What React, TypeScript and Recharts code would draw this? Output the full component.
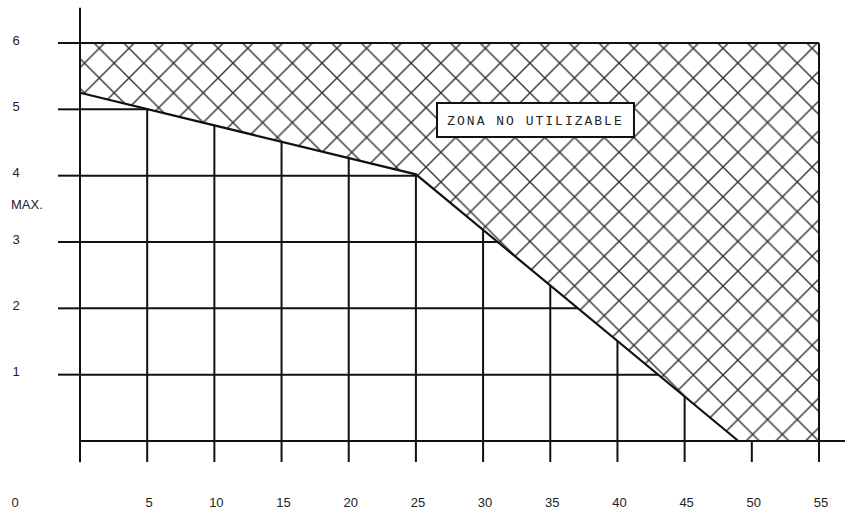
import React from "react"
import {
  ComposedChart,
  Area,
  XAxis,
  YAxis,
  CartesianGrid,
  ReferenceLine,
  ReferenceArea,
} from "recharts"

// axis ticks
const xTicks = [0, 5, 10, 15, 20, 25, 30, 35, 40, 45, 50, 55]
const yTicks = [1, 2, 3, 4, 5, 6]

// boundary of the unusable zone (lower edge), upper edge is the top of the chart
const boundaryX = [0, 25, 49, 55]
const boundaryY = [5.25, 4.02, 0, 0]
const zoneTop = 6

const zoneLabel = "ZONA NO UTILIZABLE"
const maxLabel = "MAX."

const zoneData = boundaryX.map((x, i) => ({ x, zone: [boundaryY[i], zoneTop] }))

const INK = "#111"
const FONT = "'Liberation Sans', Arial, sans-serif"
const H = 29.7 // hatch spacing

function XTick(props: any) {
  const { x, y, payload } = props
  const isZero = payload.value === 0
  return (
    <text
      x={isZero ? 15 : x + 2}
      y={y}
      dy="0.35em"
      textAnchor="middle"
      fontSize={13}
      fontFamily={FONT}
      fill="#222"
    >
      {payload.value}
    </text>
  )
}

function YTick(props: any) {
  const { y, payload } = props
  return (
    <g>
      <text x={16} y={y - 3} dy="0.35em" textAnchor="middle" fontSize={13} fontFamily={FONT} fill="#222">
        {payload.value}
      </text>
      {payload.value === 4 && (
        <text x={11} y={y + 29} dy="0.35em" fontSize={13} fontFamily={FONT} fill="#222">
          {maxLabel}
        </text>
      )}
    </g>
  )
}

function ZoneLabel(props: any) {
  const { viewBox } = props
  return (
    <text
      x={viewBox.x + viewBox.width / 2}
      y={viewBox.y + viewBox.height / 2}
      dy="0.35em"
      textAnchor="middle"
      fontSize={13}
      fontFamily="'Liberation Mono', 'DejaVu Sans Mono', monospace"
      letterSpacing={2}
      fill="#222"
    >
      {zoneLabel}
    </text>
  )
}

export default function App() {
  return (
    <div style={{ position: "absolute", left: 0, top: 0, background: "#fff" }}>
      <ComposedChart
        width={845}
        height={511}
        data={zoneData}
        margin={{ top: 43, right: 26, bottom: 0, left: 0 }}
      >
        <defs>
          <pattern id="hatch" patternUnits="userSpaceOnUse" x={99.3} y={48.3} width={H} height={H}>
            <rect width={H} height={H} fill="#fff" />
            <g stroke="#333" strokeWidth={1.4}>
              <line x1={0} y1={0} x2={H} y2={H} />
              <line x1={H} y1={0} x2={0} y2={H} />
              <line x1={-3} y1={3} x2={3} y2={-3} />
              <line x1={H - 3} y1={H + 3} x2={H + 3} y2={H - 3} />
              <line x1={H - 3} y1={-3} x2={H + 3} y2={3} />
              <line x1={-3} y1={H - 3} x2={3} y2={H + 3} />
            </g>
          </pattern>
        </defs>
        <CartesianGrid stroke={INK} strokeWidth={2} />
        <XAxis
          dataKey="x"
          type="number"
          domain={[0, 55]}
          ticks={xTicks}
          interval={0}
          height={70}
          tickSize={21}
          tickMargin={40}
          axisLine={{ stroke: INK, strokeWidth: 2 }}
          tickLine={{ stroke: INK, strokeWidth: 2 }}
          tick={<XTick />}
        />
        <YAxis
          type="number"
          domain={[0, 6]}
          ticks={yTicks}
          interval={0}
          width={80}
          tickSize={22}
          axisLine={{ stroke: INK, strokeWidth: 2 }}
          tickLine={{ stroke: INK, strokeWidth: 2 }}
          tick={<YTick />}
        />
        <Area
          type="linear"
          dataKey="zone"
          fill="url(#hatch)"
          fillOpacity={1}
          stroke={INK}
          strokeWidth={2.2}
          dot={false}
          activeDot={false}
          isAnimationActive={false}
        />
        <ReferenceLine x={55} stroke={INK} strokeWidth={2} />
        <ReferenceLine
          segment={[{ x: 0, y: -0.32 }, { x: 0, y: 6.53 }]}
          ifOverflow="visible"
          stroke={INK}
          strokeWidth={2}
        />
        <ReferenceLine
          segment={[{ x: 0, y: 0 }, { x: 57, y: 0 }]}
          ifOverflow="visible"
          stroke={INK}
          strokeWidth={2}
        />
        <ReferenceArea
          x1={26.57}
          x2={41.23}
          y1={4.583}
          y2={5.096}
          fill="#fff"
          fillOpacity={1}
          stroke={INK}
          strokeWidth={2}
          label={<ZoneLabel />}
        />
      </ComposedChart>
    </div>
  )
}
